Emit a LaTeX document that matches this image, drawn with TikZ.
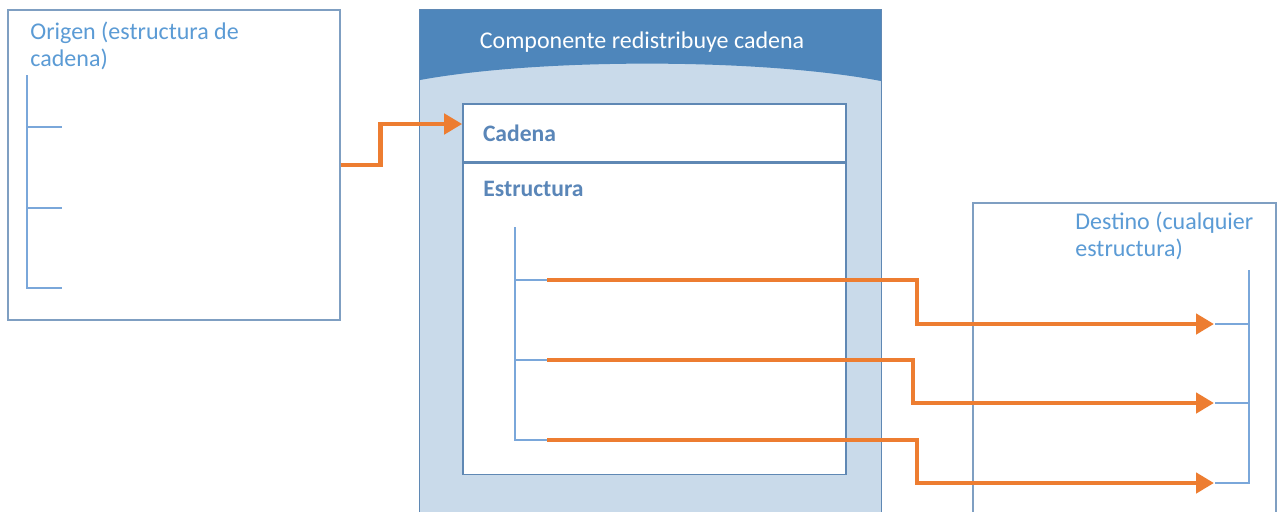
\documentclass[tikz,border=0pt]{standalone}
\usepackage{fontspec}
\setmainfont{Carlito}
\usetikzlibrary{arrows.meta, positioning, calc}
\definecolor{frame}{HTML}{7F9FC2}
\definecolor{treeblue}{HTML}{7AA7DA}
\definecolor{txtblue}{HTML}{5B9BD5}
\definecolor{darkblue}{HTML}{5A86B8}
\definecolor{headblue}{HTML}{4E86BB}
\definecolor{bodyblue}{HTML}{C9DAEA}
\definecolor{compframe}{HTML}{5F88B4}
\definecolor{flowor}{HTML}{ED7D31}
\tikzset{
  box/.style={rectangle, draw=frame, line width=0.8pt, fill=white, inner sep=0pt},
  inbox/.style={rectangle, draw=compframe, line width=0.8pt, fill=white, inner sep=0pt},
  txtlight/.style={font=\fontsize{12}{13.5}\selectfont, text=txtblue, align=left, inner sep=0pt},
  txtbold/.style={font=\fontsize{11.8}{13}\selectfont\bfseries, text=darkblue, inner sep=0pt},
  tree/.style={draw=treeblue, line width=0.8pt},
  flow/.style={-{Triangle[length=9pt,width=10pt]}, line width=2.4pt, flowor},
}
\begin{document}
\begin{tikzpicture}[x=0.5pt, y=-0.5pt]
\useasboundingbox (0,0) rectangle (1278,511);
% origen
\node[box, minimum width=166pt, minimum height=155pt] (origen) at (174,165) {};
\node[txtlight, anchor=north west] (origentxt) at (30,22) {Origen (estructura de\\cadena)};
\draw[tree] (27,75) -- (27,288) -- (62,288);
\draw[tree] (27,127) -- (62,127);
\draw[tree] (27,208) -- (62,208);
% componente
\node[rectangle, fill=bodyblue, minimum width=230.5pt, minimum height=252.5pt, inner sep=0pt] (comp) at (650.5,262.5) {};
\fill[headblue] (comp.north west) -- (comp.north east) -- (881,81) .. controls (760,58) and (540,58) .. (420,80) -- cycle;
\draw[compframe, line width=0.8pt] (comp.south west) rectangle (comp.north east);
\node[font=\fontsize{12}{13}\selectfont, text=white] (comptitle) at (642,42) {Componente redistribuye cadena};
\node[inbox, txtbold, minimum height=29pt, text width=171.5pt, inner xsep=10pt, align=left] (cadena) at (654.5,133) {Cadena};
\node[inbox, below=0pt of cadena, minimum width=191.5pt, minimum height=155.5pt] (estr) {};
\node[txtbold, anchor=west] (estrtxt) at (483,189) {Estructura};
\draw[tree] (515,227) -- (515,440) -- (547,440);
\draw[tree] (515,280) -- (547,280);
\draw[tree] (515,360) -- (547,360);
\coordinate (s1) at (547,280);
\coordinate (s2) at (547,360);
\coordinate (s3) at (547,440);
% destino
\node[box, minimum width=151.5pt, minimum height=156pt] (destino) at (1124.5,359) {};
\node[txtlight, anchor=north west] (destinotxt) at (1075,212) {Destino (cualquier\\estructura)};
\draw[tree] (1249,270) -- (1249,483) -- (1215,483);
\draw[tree] (1215,324) -- (1249,324);
\draw[tree] (1215,403) -- (1249,403);
\coordinate (d1) at (1214,324);
\coordinate (d2) at (1214,403);
\coordinate (d3) at (1214,483);
% flechas
\draw[flow] (origen.east) -- ++(40,0) |- ([yshift=4.5pt]cadena.west);
\foreach \i/\dx in {1/370,2/366,3/370}
  \draw[flow] (s\i) -- ++(\dx,0) |- (d\i);
\end{tikzpicture}
\end{document}
